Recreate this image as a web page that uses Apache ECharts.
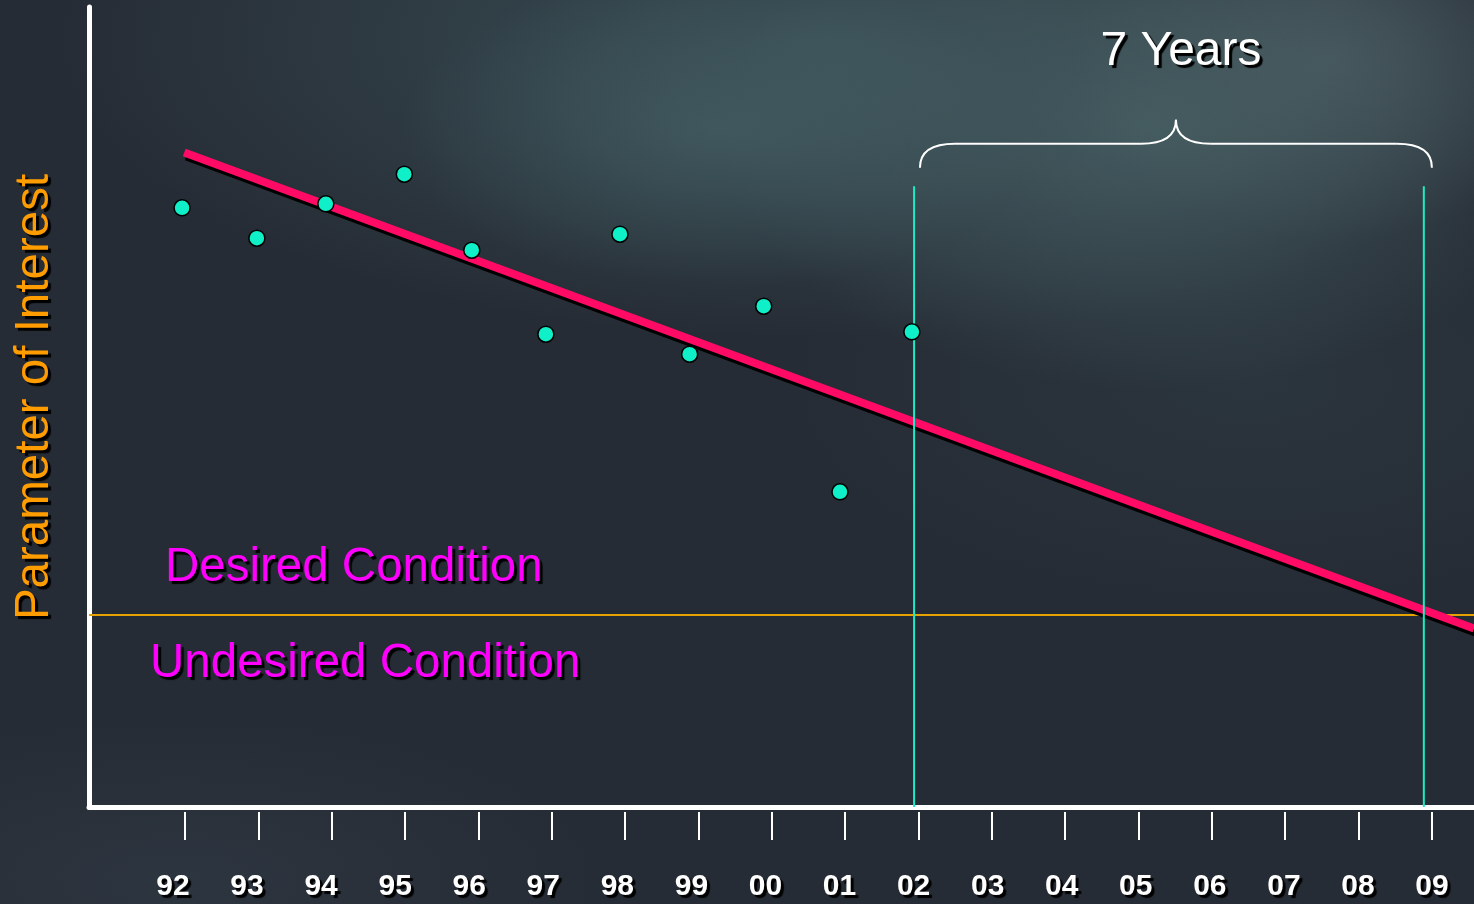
<!DOCTYPE html>
<html>
<head>
<meta charset="utf-8">
<title>Parameter of Interest trend</title>
<script src="https://cdn.jsdelivr.net/npm/echarts@6/dist/echarts.min.js"></script>
<style>
  html, body { margin: 0; padding: 0; }
  body {
    width: 1474px; height: 904px; overflow: hidden;
    background:
      radial-gradient(ellipse 320px 160px at 720px 130px, rgba(72,102,106,0.6), rgba(72,102,106,0) 100%),
      radial-gradient(ellipse 430px 260px at 1150px 130px, rgba(74,100,104,0.75), rgba(74,100,104,0) 100%),
      radial-gradient(ellipse 260px 180px at 1330px 60px, rgba(84,100,104,0.6), rgba(84,100,104,0) 100%),
      radial-gradient(ellipse 760px 300px at 820px 40px, rgba(60,84,90,0.85), rgba(60,84,90,0) 100%),
      radial-gradient(ellipse 460px 220px at 1250px 380px, rgba(48,64,72,0.45), rgba(48,64,72,0) 100%),
      radial-gradient(ellipse 420px 160px at 180px 880px, rgba(50,60,72,0.55), rgba(50,60,72,0) 100%),
      #262c35;
  }
  #chart { width: 1474px; height: 904px; }
</style>
</head>
<body>
<div id="chart"></div>
<script>
// Year tick labels along the bottom axis (index 0 = 1992)
const yearLabels = ['92','93','94','95','96','97','98','99','00','01','02','03','04','05','06','07','08','09'];

// Observed values (x = year index, y = parameter value)
const obsX = [-0.04, 0.98, 1.92, 2.99, 3.91, 4.92, 5.93, 6.88, 7.89, 8.93, 9.91];
const obsY = [74.9, 71.1, 75.4, 79.1, 69.6, 59.1, 71.6, 56.6, 62.6, 39.4, 59.4];

// Fitted trend line end points
const trendX = [-0.01, 17.574];
const trendY = [81.8, 22.3];

// Threshold between desired and undesired condition
const thresholdY = 24;

// Projection window: now -> threshold crossing
const markerX = [9.94, 16.89];
const markerTop = 77.6;

// Brace above the projection window: [from, to, endY, barY, tipY]
const braceSpec = [10.02, 17.0, 79.9, 82.9, 85.9];

const X_MIN = -1.309, X_MAX = 17.574;      // data axis range
const L_MIN = -1.134, L_MAX = 17.567;      // label axis range

const FONT = "'Liberation Sans', Arial, Helvetica, sans-serif";

// crisp dark drop shadow used by all text
const SHADOW = { textShadowColor: '#000000', textShadowOffsetX: 3, textShadowOffsetY: 3, textShadowBlur: 1 };

const chart = echarts.init(document.getElementById('chart'), null, { renderer: 'canvas' });

const obsData = obsX.map((x, i) => [x, obsY[i]]);
const trendData = trendX.map((x, i) => [x, trendY[i]]);

const markerSeries = markerX.map(x => ({
  type: 'line',
  data: [[x, 0], [x, markerTop]],
  symbol: 'none',
  lineStyle: { color: '#19ecc6', width: 2 },
  z: 4,
  silent: true
}));

const option = {
  backgroundColor: 'transparent',
  animation: false,
  grid: { left: 89, right: 0, top: 7, bottom: 97 },
  xAxis: [
    {
      type: 'value', min: X_MIN, max: X_MAX, position: 'bottom',
      axisLine: { show: true, onZero: false, lineStyle: { color: '#ffffff', width: 5 } },
      axisTick: { show: false }, axisLabel: { show: false }, splitLine: { show: false }
    },
    {
      type: 'value', min: X_MIN, max: X_MAX, position: 'bottom', offset: 5,
      axisLine: { show: false, onZero: false },
      axisTick: {
        show: true, length: 28,
        customValues: yearLabels.map((_, i) => i),
        lineStyle: { color: '#ffffff', width: 2 }
      },
      axisLabel: { show: false }, splitLine: { show: false }
    },
    {
      type: 'value', min: L_MIN, max: L_MAX, position: 'bottom',
      axisLine: { show: false, onZero: false },
      axisTick: { show: false }, splitLine: { show: false },
      axisLabel: Object.assign({
        show: true, margin: 65,
        customValues: yearLabels.map((_, i) => i),
        formatter: v => yearLabels[Math.round(v)],
        color: '#ffffff', fontFamily: FONT, fontWeight: 'bold', fontSize: 30
      }, SHADOW)
    }
  ],
  yAxis: {
    type: 'value', min: 0, max: 100,
    axisLine: { show: true, onZero: false, lineStyle: { color: '#ffffff', width: 5 } },
    axisTick: { show: false }, axisLabel: { show: false }, splitLine: { show: false }
  },
  series: [
    {
      type: 'line',
      data: [[X_MIN, thresholdY], [X_MAX, thresholdY]],
      symbol: 'none',
      lineStyle: { color: '#e6a300', width: 2 },
      z: 2, silent: true
    },
    {
      type: 'line',
      data: trendData,
      symbol: 'none',
      lineStyle: {
        color: '#ff0a64', width: 8, cap: 'butt',
        shadowColor: '#000000', shadowOffsetX: 2, shadowOffsetY: 4, shadowBlur: 0
      },
      z: 3, silent: true
    },
    ...markerSeries,
    {
      type: 'custom',
      data: [braceSpec],
      encode: { x: [0, 1], y: [2, 3, 4] },
      z: 5, silent: true,
      renderItem: (params, api) => {
        const x0 = api.value(0), x1 = api.value(1);
        const pL = api.coord([x0, api.value(2)]);
        const pR = api.coord([x1, api.value(2)]);
        const yb = api.coord([x0, api.value(3)])[1];
        const pT = api.coord([(x0 + x1) / 2, api.value(4)]);
        const r = 35, m = pT[0];
        const st = { stroke: '#ffffff', fill: null, lineWidth: 2 };
        return {
          type: 'group',
          children: [
            { type: 'bezierCurve', shape: { x1: pL[0], y1: pL[1], cpx1: pL[0], cpy1: yb, x2: pL[0] + r, y2: yb }, style: st },
            { type: 'line', shape: { x1: pL[0] + r, y1: yb, x2: m - r, y2: yb }, style: st },
            { type: 'bezierCurve', shape: { x1: m - r, y1: yb, cpx1: m, cpy1: yb, x2: m, y2: pT[1] }, style: st },
            { type: 'bezierCurve', shape: { x1: m, y1: pT[1], cpx1: m, cpy1: yb, x2: m + r, y2: yb }, style: st },
            { type: 'line', shape: { x1: m + r, y1: yb, x2: pR[0] - r, y2: yb }, style: st },
            { type: 'bezierCurve', shape: { x1: pR[0] - r, y1: yb, cpx1: pR[0], cpy1: yb, x2: pR[0], y2: pR[1] }, style: st }
          ]
        };
      }
    },
    {
      type: 'scatter',
      data: obsData,
      symbol: 'circle',
      symbolSize: 16,
      itemStyle: { color: '#10f0c8', borderColor: '#000000', borderWidth: 1.5, opacity: 1 },
      z: 6, silent: true
    }
  ],
  graphic: [
    {
      type: 'text', x: 35, y: 397, rotation: Math.PI / 2, z: 10,
      style: Object.assign({
        text: 'Parameter of Interest', fill: '#ff9c00',
        font: '47.5px ' + FONT, align: 'center', verticalAlign: 'middle'
      }, SHADOW)
    },
    {
      type: 'text', x: 1181, y: 52, z: 10,
      style: Object.assign({
        text: '7 Years', fill: '#ffffff',
        font: '48px ' + FONT, align: 'center', verticalAlign: 'middle'
      }, SHADOW)
    },
    {
      type: 'text', x: 165, y: 568, z: 10,
      style: Object.assign({
        text: 'Desired Condition', fill: '#ff00ff',
        font: '47.5px ' + FONT, align: 'left', verticalAlign: 'middle'
      }, SHADOW)
    },
    {
      type: 'text', x: 150, y: 664, z: 10,
      style: Object.assign({
        text: 'Undesired Condition', fill: '#ff00ff',
        font: '47.5px ' + FONT, align: 'left', verticalAlign: 'middle'
      }, SHADOW)
    }
  ]
};

chart.setOption(option);
</script>
</body>
</html>
